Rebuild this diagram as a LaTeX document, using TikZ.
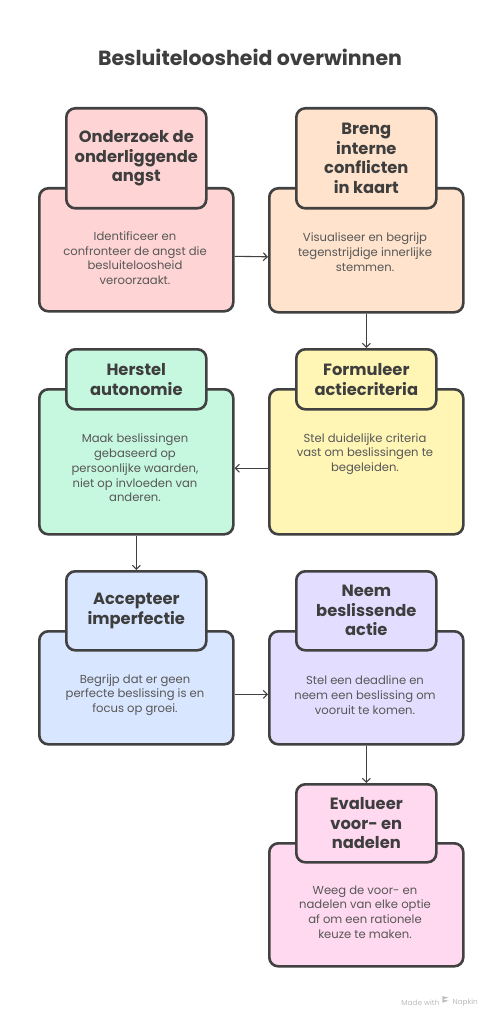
\documentclass[tikz,border=0pt]{standalone}
\usepackage{fontspec}
\setmainfont{Poppins}
\usetikzlibrary{arrows.meta}
\definecolor{strokec}{HTML}{414141}
\definecolor{headtxt}{HTML}{3E3E3E}
\definecolor{bodytxt}{HTML}{575757}
\definecolor{ca}{HTML}{FFD4D4}
\definecolor{cb}{HTML}{FFE3CC}
\definecolor{cc}{HTML}{C6F7DF}
\definecolor{cd}{HTML}{FFF6B5}
\definecolor{ce}{HTML}{D9E6FF}
\definecolor{cf}{HTML}{E3DEFF}
\definecolor{cg}{HTML}{FFD9EF}
\definecolor{markc}{HTML}{BDBDBD}
\tikzset{
  bodybox/.style={draw=strokec, line width=2.6pt, rounded corners=9pt, anchor=north west, minimum width=194pt, inner sep=0pt},
  headbox/.style={draw=strokec, line width=2.6pt, rounded corners=9pt, anchor=north west, minimum width=140pt, inner sep=0pt, align=center, text=headtxt, font=\fontsize{16.3}{19.5}\selectfont\bfseries},
  bodytext/.style={align=center, text=bodytxt, font=\fontsize{11.6}{14.7}\selectfont, inner sep=0pt},
  conn/.style={draw=strokec, line width=1.1pt, -{Straight Barb[length=4pt,width=8pt]}}
}
\begin{document}
\begin{tikzpicture}[x=1pt,y=-1pt]
\useasboundingbox[fill=white] (0,0) rectangle (499,1024);
\node[font=\fontsize{20.5}{24}\selectfont\bfseries, text=headtxt] (title) at (250,57) {Besluiteloosheid overwinnen};

% row 1
\node[bodybox, fill=ca, minimum height=123pt] (b1) at (38,187) {};
\node[headbox, fill=ca, minimum height=100pt] (h1) at (65,107) {Onderzoek de\\onderliggende\\angst};
\node[bodytext] (t1) at (135,258) {Identificeer en\\confronteer de angst die\\besluiteloosheid\\veroorzaakt.};

\node[bodybox, fill=cb, minimum height=124pt] (b2) at (268,187) {};
\node[headbox, fill=cb, minimum height=100pt] (h2) at (295,107) {Breng\\interne\\conflicten\\in kaart};
\node[bodytext] (t2) at (365,252) {Visualiseer en begrijp\\tegenstrijdige innerlijke\\stemmen.};

% row 2
\node[bodybox, fill=cc, minimum height=145pt] (b3) at (38,388) {};
\node[headbox, fill=cc, minimum height=60pt] (h3) at (65,348) {Herstel\\autonomie};
\node[bodytext] (t3) at (135,468) {Maak beslissingen\\gebaseerd op\\persoonlijke waarden,\\niet op invloeden van\\anderen.};

\node[bodybox, fill=cd, minimum height=145pt] (b4) at (268,388) {};
\node[headbox, fill=cd, minimum height=60pt] (h4) at (295,348) {Formuleer\\actiecriteria};
\node[bodytext] (t4) at (365,454) {Stel duidelijke criteria\\vast om beslissingen te\\begeleiden.};

% row 3
\node[bodybox, fill=ce, minimum height=113pt] (b5) at (38,630) {};
\node[headbox, fill=ce, minimum height=79pt] (h5) at (65,570) {Accepteer\\imperfectie};
\node[bodytext] (t5) at (135,695) {Begrijp dat er geen\\perfecte beslissing is en\\focus op groei.};

\node[bodybox, fill=cf, minimum height=113pt] (b6) at (268,630) {};
\node[headbox, fill=cf, minimum height=79pt] (h6) at (295,570) {Neem\\beslissende\\actie};
\node[bodytext] (t6) at (365,695) {Stel een deadline en\\neem een beslissing om\\vooruit te komen.};

% row 4
\node[bodybox, fill=cg, minimum height=123pt] (b7) at (268,842) {};
\node[headbox, fill=cg, minimum height=78pt] (h7) at (295,783) {Evalueer\\voor- en\\nadelen};
\node[bodytext] (t7) at (365,912) {Weeg de voor- en\\nadelen van elke optie\\af om een rationele\\keuze te maken.};

% connectors
\draw[conn] ([yshift=-6.5pt]b1.east) -- ([yshift=-6.5pt]b2.west);
\draw[conn] (b2.south) -- (h4.north);
\draw[conn] ([yshift=-6.5pt]b4.west) -- ([yshift=-6.5pt]b3.east);
\draw[conn] (b3.south) -- (h5.north);
\draw[conn] ([yshift=-6.5pt]b5.east) -- ([yshift=-6.5pt]b6.west);
\draw[conn] (b6.south) -- (h7.north);

% watermark
\node[anchor=east, text=markc, font=\fontsize{7.3}{9}\selectfont, inner sep=0pt] (napkin) at (478,1003) {Napkin};
\node[anchor=east, text=markc, font=\fontsize{7.3}{9}\selectfont, inner sep=0pt] (madewith) at ([xshift=-13pt]napkin.west) {Made with};
\fill[markc] ([xshift=-10pt,yshift=3.5pt]napkin.west) -- ++(6,-2) -- ++(-6,-1.3) -- cycle
             ([xshift=-10pt,yshift=0.3pt]napkin.west) -- ++(6,-2) -- ++(-6,-1.3) -- cycle;
\end{tikzpicture}
\end{document}
